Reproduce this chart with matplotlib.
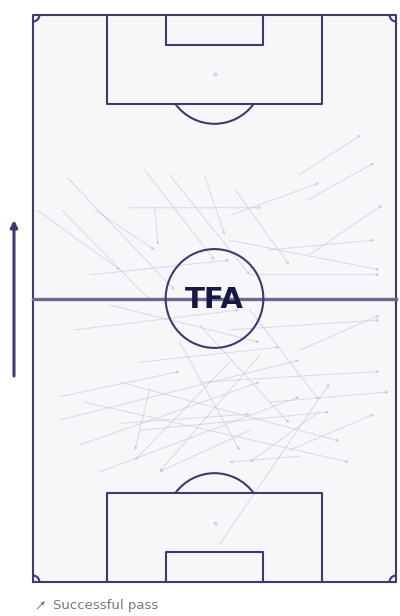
import matplotlib.pyplot as plt
from matplotlib.patches import Arc, Circle, Rectangle

# pitch size (metres), vertical pitch, attacking upward
pitch_w = 68
pitch_l = 105

# passes (x across, y along the pitch)
pass_x0 = [5.4, 6.5, 20.9, 25.6, 32.1, 18.1, 22.8, 49.9, 51.4, 37.2, 37.9, 51.8,
           0.7, 11.6, 36.8, 44.3, 40.6, 10.7, 7.9, 14.4, 36.8, 49.9, 31.2, 40.6,
           27.5, 5.0, 8.8, 9.7, 16.3, 12.5, 20.0, 42.4, 36.8, 16.3, 21.9, 31.2,
           34.9, 48.0, 44.3, 5.0, 20.0, 40.6, 49.9, 53.6]
pass_y0 = [68.9, 74.8, 76.3, 75.4, 75.4, 69.3, 69.6, 75.4, 70.7, 68.0, 72.6, 60.6,
           68.9, 68.9, 63.3, 61.5, 56.9, 56.9, 46.7, 51.3, 46.7, 42.9, 47.6, 50.4,
           44.4, 30.0, 25.4, 33.3, 37.0, 20.4, 28.1, 41.9, 40.7, 29.4, 35.9, 37.0,
           6.9, 24.4, 33.3, 34.3, 40.7, 28.1, 23.3, 31.5]
pass_x1 = [21.9, 26.5, 34.0, 40.6, 35.9, 42.8, 23.4, 61.5, 63.9, 53.6, 48.0, 65.4,
           16.3, 22.8, 64.9, 63.9, 64.9, 36.8, 38.7, 42.4, 64.9, 64.9, 48.0, 53.6,
           38.7, 49.9, 42.4, 59.2, 57.4, 49.9, 55.5, 23.7, 19.1, 40.6, 19.1, 64.9,
           55.5, 63.9, 66.7, 27.5, 46.2, 23.7, 36.8, 40.6]
pass_y1 = [52.2, 54.1, 59.6, 56.9, 64.3, 69.3, 62.4, 82.8, 77.6, 73.9, 58.7, 69.8,
           57.8, 61.5, 57.8, 63.3, 56.9, 59.6, 50.4, 44.4, 48.5, 49.4, 29.4, 33.7,
           24.4, 41.1, 37.0, 22.2, 26.1, 34.3, 31.5, 20.4, 22.6, 31.1, 24.4, 39.0,
           36.7, 31.1, 35.2, 39.0, 43.5, 20.4, 22.2, 22.2]

line_col = '#3d3b6e'
pass_col = '#c4c3da'

fig = plt.figure(figsize=(4, 6.16), dpi=100)
ax = fig.add_axes([33 / 400, 34 / 616, 363 / 400, 567 / 616])
ax.set_xlim(0, pitch_w)
ax.set_ylim(0, pitch_l)
ax.axis('off')

lw = 1.5
kw = dict(color=line_col, lw=lw, solid_joinstyle='round', clip_on=False, zorder=3)

# pitch background + outline
ax.add_patch(Rectangle((0, 0), pitch_w, pitch_l, facecolor='#f7f7f9', edgecolor='none', zorder=0))
ax.plot([0, pitch_w, pitch_w, 0, 0], [0, 0, pitch_l, pitch_l, 0], **kw)
# halfway line
ax.plot([0, pitch_w], [pitch_l / 2, pitch_l / 2], color='#6b6991', lw=2.4, clip_on=False, zorder=3)

mid = pitch_w / 2
for y_goal, s in [(0, 1), (pitch_l, -1)]:
    # penalty area
    ax.plot([mid - 20.15, mid - 20.15, mid + 20.15, mid + 20.15],
            [y_goal, y_goal + s * 16.5, y_goal + s * 16.5, y_goal], **kw)
    # six yard box
    ax.plot([mid - 9.16, mid - 9.16, mid + 9.16, mid + 9.16],
            [y_goal, y_goal + s * 5.5, y_goal + s * 5.5, y_goal], **kw)
    # penalty arc
    spot = y_goal + s * 11
    th1, th2 = (37, 143) if s == 1 else (217, 323)
    ax.add_patch(Arc((mid, spot), 18.3, 18.3, theta1=th1, theta2=th2,
                     color=line_col, lw=lw, zorder=3))
    ax.scatter(mid, spot, s=3, color='#d2d1e0', zorder=2)

# centre circle
ax.add_patch(Circle((mid, pitch_l / 2), 9.15, fill=False, edgecolor=line_col, lw=lw, zorder=3))

# corner arcs
for cx, cy, t1 in [(0, 0, 0), (pitch_w, 0, 90), (pitch_w, pitch_l, 180), (0, pitch_l, 270)]:
    ax.add_patch(Arc((cx, cy), 2.4, 2.4, theta1=t1, theta2=t1 + 90,
                     color=line_col, lw=lw, zorder=3, clip_on=False))

# passes
for x0, y0, x1, y1 in zip(pass_x0, pass_y0, pass_x1, pass_y1):
    ax.annotate('', xy=(x1, y1), xytext=(x0, y0),
                arrowprops=dict(arrowstyle='-|>', color=pass_col, lw=0.7,
                                alpha=0.6, mutation_scale=4,
                                shrinkA=0, shrinkB=0), zorder=1)

ax.text(mid, pitch_l / 2 - 0.3, 'TFA', ha='center', va='center', fontsize=21,
        fontweight='heavy', color='#1a1745', zorder=4)

# direction of play arrow
ax.annotate('', xy=(14 / 400, 1 - 220 / 616), xytext=(14 / 400, 1 - 376 / 616),
            xycoords='figure fraction', textcoords='figure fraction',
            arrowprops=dict(arrowstyle='-|>', color=line_col, lw=2.2,
                            mutation_scale=10, shrinkA=0, shrinkB=0))

# legend
ax.annotate('', xy=(45 / 400, 1 - 601 / 616), xytext=(37 / 400, 1 - 609 / 616),
            xycoords='figure fraction', textcoords='figure fraction',
            arrowprops=dict(arrowstyle='-|>', color='#888888', lw=0.8,
                            mutation_scale=5, shrinkA=0, shrinkB=0))
fig.text(53 / 400, 1 - 605 / 616, 'Successful pass', fontsize=9.5,
         color='#777777', va='center', ha='left')

fig.savefig('out.png', dpi=100)
